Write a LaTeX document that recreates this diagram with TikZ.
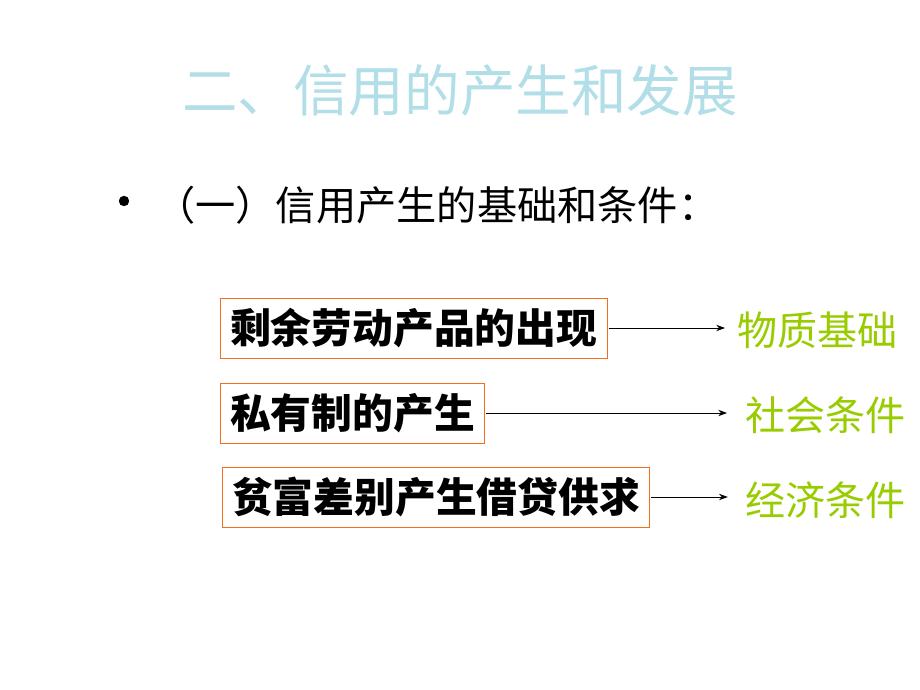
\documentclass[tikz,border=0pt]{standalone}
\usepackage{fontspec}
\setmainfont{Noto Sans CJK SC}
\usepackage{tikz}
\usetikzlibrary{arrows.meta,positioning}
\definecolor{titlecyan}{RGB}{178,222,232}
\definecolor{boxorange}{RGB}{245,110,30}
\definecolor{leafgreen}{RGB}{153,204,0}
\tikzset{
    %Define standard arrow tip
    >={Stealth[length=0.22cm,width=0.16cm]},
    %Define style for boxes
    kuang/.style={
           rectangle,
           draw=boxorange, thin,
           inner xsep=7pt,
           minimum height=1.5cm,
           anchor=west,
           font=\fontsize{29}{32}\selectfont\bfseries},
    % Define arrow style
    jiantou/.style={
           ->,
           line width=0.6pt,
           shorten <=1pt},
    % Node for result labels
    jieguo/.style={
           text=leafgreen,
           anchor=west,
           inner sep=0pt,
           font=\fontsize{28.5}{32}\selectfont}
}
\begin{document}
\begin{tikzpicture}[x=0.025cm, y=-0.025cm]
    \useasboundingbox (0,0) rectangle (920,690);
    	\node[text=titlecyan, font=\fontsize{39.5}{44}\selectfont] (title) at (460,90) {二、信用的产生和发展};
    	\node[circle, fill=black, inner sep=0pt, minimum size=0.26cm] (dot) at (124,201) {};
    	\node[anchor=west, inner sep=0pt, font=\fontsize{28.6}{32}\selectfont] (head) at (155,205) {（一）信用产生的基础和条件：};
    	\node[kuang] (wuzhi) at (220,328) {剩余劳动产品的出现};
    	\node[kuang] (siyou) at (220,413) {私有制的产生};
    	\node[kuang] (pinfu) at (222,497) {贫富差别产生借贷供求};
    	\node[jieguo] (jichu) at (737,330) {物质基础};
    	\node[jieguo] (shehui) at (745,415) {社会条件};
    	\node[jieguo] (jingji) at (745,500) {经济条件};
    	\draw[jiantou] (wuzhi.east) -- ([xshift=-0.3cm]wuzhi.east -| jichu.west);
    	\draw[jiantou] (siyou.east) -- ([xshift=-0.45cm]siyou.east -| shehui.west);
    	\draw[jiantou] (pinfu.east) -- ([xshift=-0.43cm]pinfu.east -| jingji.west);
	\end{tikzpicture}
\end{document}
